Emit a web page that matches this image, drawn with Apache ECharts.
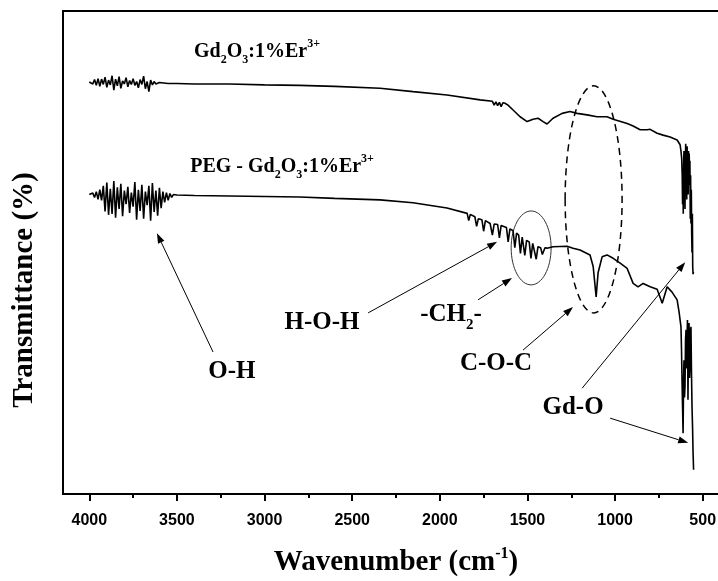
<!DOCTYPE html>
<html>
<head>
<meta charset="utf-8">
<script src="https://cdn.jsdelivr.net/npm/echarts@6/dist/echarts.min.js"></script>
<style>
  html, body { margin: 0; background: #fff; }
  #main { width: 718px; height: 581px; }
</style>
</head>
<body>
<div id="main"></div>
<script>
// FTIR spectra (wavenumber cm-1 / transmittance, arb.)
var gdWave = [
  4000, 3990, 3980, 3970, 3960, 3950, 3940, 3930, 3920, 3910,
  3900, 3890, 3880, 3870, 3860, 3850, 3840, 3830, 3820, 3810,
  3800, 3790, 3780, 3770, 3760, 3750, 3740, 3730, 3720, 3710,
  3700, 3690, 3680, 3670, 3660, 3650, 3640, 3630, 3620, 3600,
  3550, 3500, 3400, 3200, 3000, 2800, 2600, 2341, 2153, 1959,
  1770, 1700, 1690, 1680, 1670, 1660, 1650, 1640, 1628, 1611,
  1582, 1542, 1502, 1468, 1439, 1411, 1388, 1354, 1302, 1257,
  1217, 1160, 1103, 1046, 1011, 931, 897, 857, 817, 800,
  760, 726, 686, 646, 629, 624, 620, 617, 615, 613,
  611, 609, 607, 605, 603, 601, 599, 597, 595, 593,
  591, 589, 587, 585, 583, 581, 579, 577, 575, 573,
  571, 569, 567, 565, 563, 561, 559, 557, 555, 553
];
var gdT = [
  85.3, 85.6, 84.9, 85.8, 84.6, 86.0, 84.4, 85.9, 84.8, 86.3,
  84.2, 85.7, 84.7, 86.6, 83.6, 85.9, 84.5, 86.4, 84.0, 85.5,
  84.9, 86.2, 84.3, 85.6, 84.8, 86.0, 84.6, 85.4, 84.1, 85.8,
  84.8, 86.5, 83.9, 85.4, 83.3, 85.7, 84.7, 85.4, 84.9, 85.2,
  85.0, 85.0, 84.9, 84.9, 84.7, 84.6, 84.4, 84.0, 83.3, 82.6,
  81.6, 81.3, 80.5, 81.2, 80.4, 81.1, 80.2, 81.0, 80.9, 80.5,
  79.5, 78.1, 77.1, 77.6, 77.8, 77.1, 76.6, 77.8, 78.8, 79.2,
  78.8, 78.5, 78.1, 78.1, 77.6, 76.7, 76.2, 75.4, 75.4, 75.5,
  74.7, 74.3, 73.9, 73.3, 72.3, 71.0, 69.5, 66.0, 60.0, 67.0,
  58.0, 68.0, 71.0, 63.0, 70.0, 59.0, 69.0, 72.5, 65.0, 71.0,
  61.0, 72.0, 66.0, 70.0, 62.0, 71.0, 67.0, 70.5, 64.0, 69.0,
  57.0, 66.0, 56.0, 63.0, 54.0, 50.0, 58.0, 47.0, 45.5, 46.0
];

var pegWave = [
  4000, 3990, 3980, 3970, 3960, 3950, 3940, 3930, 3920, 3910,
  3900, 3890, 3880, 3870, 3860, 3850, 3840, 3830, 3820, 3810,
  3800, 3790, 3780, 3770, 3760, 3750, 3740, 3730, 3720, 3710,
  3700, 3690, 3680, 3670, 3660, 3650, 3640, 3630, 3620, 3610,
  3600, 3590, 3580, 3570, 3560, 3550, 3540, 3530, 3520, 3510,
  3500, 3400, 3200, 3000, 2800, 2600, 2341, 2153, 1959, 1844,
  1835, 1826, 1800, 1790, 1780, 1760, 1750, 1740, 1713, 1700,
  1690, 1670, 1660, 1650, 1620, 1610, 1600, 1582, 1572, 1562,
  1550, 1540, 1530, 1525, 1515, 1505, 1490, 1480, 1470, 1460,
  1450, 1440, 1425, 1415, 1400, 1388, 1354, 1274, 1240, 1200,
  1143, 1125, 1108, 1097, 1074, 1046, 1011, 971, 931, 897,
  869, 840, 800, 760, 731, 703, 675, 646, 635, 624,
  621, 618, 615, 612, 609, 607, 604, 601, 598, 595,
  592, 590, 587, 584, 581, 578, 575, 572, 569, 567,
  564, 561, 558, 555, 552
];
var pegT = [
  62.0, 61.6, 62.3, 61.4, 62.6, 61.0, 63.0, 60.8, 63.8, 58.5,
  64.5, 57.8, 63.2, 58.0, 64.8, 57.2, 63.5, 59.0, 64.2, 57.5,
  62.8, 60.0, 63.6, 58.2, 62.4, 59.5, 64.6, 56.8, 63.0, 58.6,
  64.0, 57.0, 62.6, 59.8, 63.8, 56.6, 64.4, 58.4, 62.8, 57.6,
  63.4, 59.2, 62.6, 60.4, 62.4, 60.8, 62.2, 61.4, 62.0, 61.6,
  61.9, 61.8, 61.7, 61.6, 61.5, 61.2, 60.9, 60.3, 59.2, 58.1,
  56.6, 57.9, 57.4, 55.4, 57.0, 56.8, 54.4, 56.6, 56.0, 53.6,
  55.9, 55.8, 53.0, 55.6, 55.2, 52.2, 54.9, 54.5, 51.0, 54.0,
  53.6, 49.8, 53.2, 52.9, 49.4, 52.5, 52.2, 48.8, 51.9, 51.6,
  48.6, 51.2, 51.0, 49.6, 51.0, 50.9, 51.2, 51.3, 50.9, 50.5,
  49.5, 47.1, 40.8, 45.8, 49.1, 49.5, 48.8, 47.8, 46.7, 43.6,
  42.9, 43.6, 42.9, 42.4, 39.5, 42.9, 41.8, 40.2, 37.7, 34.6,
  30.0, 23.6, 18.0, 12.6, 24.0, 27.7, 20.0, 22.2, 32.0, 34.0,
  26.0, 30.4, 36.0, 19.5, 33.0, 35.4, 24.0, 27.1, 34.0, 34.6,
  25.0, 18.0, 14.0, 8.5, 5.0
];

var majorTicks = [4000, 3500, 3000, 2500, 2000, 1500, 1000, 500];
var minorTicks = [3750, 3250, 2750, 2250, 1750, 1250, 750];

// band labels: [text, wavenumber, transmittance]
var bandLabels = [
  ['O-H', 3186, 25.3],
  ['H-O-H', 2672, 35.6],
  ['-CH{sub|2}-', 1936, 37.1],
  ['C-O-C', 1679, 27.1],
  ['Gd-O', 1240, 18.0]
];
// arrows: [from, to] in data coords
var arrows = [
  [[3294, 29.4], [3614, 54.0]],
  [[2409, 37.5], [1673, 52.2]],
  [[1782, 40.2], [1588, 44.7]],
  [[1525, 29.8], [1240, 38.7]],
  [[1188, 21.9], [600, 48.0]],
  [[1028, 15.7], [583, 10.6]]
];
// ellipses: [wLeft, vTop, wRight, vBottom, dashed]
var rings = [
  [1593, 58.6, 1365, 43.3, false],
  [1285, 84.5, 960, 37.5, true]
];

var serif = 'Liberation Serif';

function pairs(xs, ys) {
  return xs.map(function (x, i) { return [x, ys[i]]; });
}

var chart = echarts.init(document.getElementById('main'));

var option = {
  animation: false,
  backgroundColor: '#fff',
  grid: {
    left: 63, top: 11, right: -11, bottom: 87,
    outerBoundsMode: 'none',
    show: true, borderColor: '#000', borderWidth: 2
  },
  xAxis: [{
    type: 'value',
    position: 'bottom',
    inverse: true,
    min: 350,
    max: 4150,
    axisLine: { lineStyle: { color: '#000', width: 2 } },
    axisTick: { customValues: majorTicks, length: 7, lineStyle: { color: '#000', width: 2 } },
    axisLabel: {
      customValues: majorTicks,
      formatter: function (v) { return String(v); },
      margin: 19,
      color: '#000',
      fontFamily: 'Liberation Sans',
      fontWeight: 'bold',
      fontSize: 16
    },
    splitLine: { show: false },
    name: 'Wavenumber (cm{sup|-1})',
    nameLocation: 'middle',
    nameGap: 52,
    nameTextStyle: {
      color: '#000',
      fontFamily: serif,
      fontWeight: 'bold',
      fontSize: 29,
      lineHeight: 34,
      rich: {
        sup: { fontFamily: serif, fontWeight: 'bold', fontSize: 16, lineHeight: 16, verticalAlign: 'top', color: '#000' }
      }
    }
  }, {
    type: 'value',
    position: 'bottom',
    inverse: true,
    min: 350,
    max: 4150,
    axisLine: { show: false },
    axisTick: { customValues: minorTicks, length: 4, lineStyle: { color: '#000', width: 2 } },
    axisLabel: { show: false },
    splitLine: { show: false }
  }],
  yAxis: {
    type: 'value',
    min: 0,
    max: 100,
    axisLine: { show: false },
    axisTick: { show: false },
    axisLabel: { show: false },
    splitLine: { show: false }
  },
  series: [{
    name: 'Gd2O3:1%Er3+',
    type: 'line',
    data: pairs(gdWave, gdT),
    showSymbol: false,
    lineStyle: { color: '#000', width: 1.6 }
  }, {
    name: 'PEG - Gd2O3:1%Er3+',
    type: 'line',
    data: pairs(pegWave, pegT),
    showSymbol: false,
    lineStyle: { color: '#000', width: 1.6 }
  }]
};
chart.setOption(option);

function px(p) {
  return chart.convertToPixel({ seriesIndex: 0 }, p);
}

function richText(size) {
  return {
    sub: { fontFamily: serif, fontWeight: 'bold', fontSize: Math.round(size * 0.6), lineHeight: Math.round(size * 0.6), verticalAlign: 'bottom', fill: '#000' },
    sup: { fontFamily: serif, fontWeight: 'bold', fontSize: Math.round(size * 0.6), lineHeight: Math.round(size * 0.6), verticalAlign: 'top', fill: '#000' }
  };
}

function textEl(text, pos, size) {
  var p = px(pos);
  return {
    type: 'text',
    x: p[0],
    y: p[1],
    style: {
      text: text,
      fill: '#000',
      fontFamily: serif,
      fontWeight: 'bold',
      fontSize: size,
      lineHeight: Math.round(size * 1.4),
      align: 'center',
      verticalAlign: 'middle',
      textAlign: 'center',
      textVerticalAlign: 'middle',
      rich: richText(size)
    }
  };
}

var elements = [];

elements.push(textEl('Gd{sub|2}O{sub|3}:1%Er{sup|3+}', [3043, 91.5], 20));
elements.push(textEl('PEG - Gd{sub|2}O{sub|3}:1%Er{sup|3+}', [2900, 67.7], 20));
bandLabels.forEach(function (b) {
  elements.push(textEl(b[0], [b[1], b[2]], 25));
});

arrows.forEach(function (a) {
  var s = px(a[0]), e = px(a[1]);
  var dx = e[0] - s[0], dy = e[1] - s[1];
  var len = Math.sqrt(dx * dx + dy * dy);
  var ux = dx / len, uy = dy / len;
  var hl = 10, hw = 3.5;
  var bx = e[0] - ux * hl, by = e[1] - uy * hl;
  elements.push({
    type: 'line',
    shape: { x1: s[0], y1: s[1], x2: bx, y2: by },
    style: { stroke: '#000', lineWidth: 1 }
  });
  elements.push({
    type: 'polygon',
    shape: { points: [[e[0], e[1]], [bx - uy * hw, by + ux * hw], [bx + uy * hw, by - ux * hw]] },
    style: { fill: '#000' }
  });
});

rings.forEach(function (r) {
  var a = px([r[0], r[1]]), b = px([r[2], r[3]]);
  elements.push({
    type: 'ellipse',
    shape: { cx: (a[0] + b[0]) / 2, cy: (a[1] + b[1]) / 2, rx: Math.abs(b[0] - a[0]) / 2, ry: Math.abs(b[1] - a[1]) / 2 },
    style: r[4]
      ? { fill: null, stroke: '#000', lineWidth: 1.5, lineDash: [7, 5] }
      : { fill: null, stroke: '#333', lineWidth: 1 }
  });
});

elements.push({
  type: 'text',
  x: 25,
  y: 290,
  rotation: Math.PI / 2,
  style: {
    text: 'Transmittance (%)',
    fill: '#000',
    fontFamily: serif,
    fontWeight: 'bold',
    fontSize: 29,
    align: 'center',
    verticalAlign: 'middle',
    textAlign: 'center',
    textVerticalAlign: 'middle'
  }
});

chart.setOption({ graphic: { elements: elements } });
</script>
</body>
</html>
